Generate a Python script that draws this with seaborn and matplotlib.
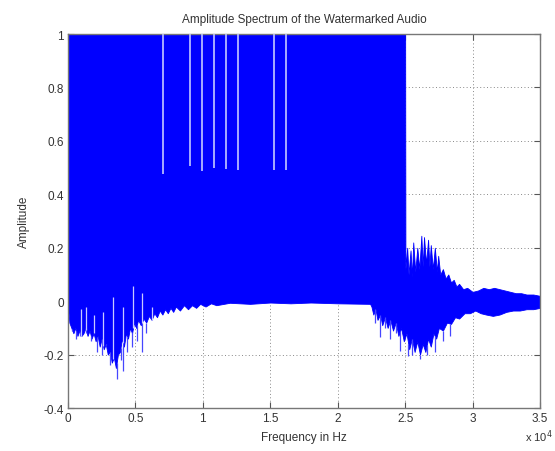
import numpy as np
import pandas as pd
import matplotlib
matplotlib.use("Agg")
import matplotlib.pyplot as plt
import seaborn as sns
from matplotlib.ticker import FuncFormatter, MultipleLocator

# lower envelope of the spectrum (Hz, amplitude)
lower_freq = [0, 100, 250, 400, 550, 700, 850, 1000, 1150, 1300, 1450, 1600, 1750, 1900, 2050,
              2200, 2350, 2500, 2650, 2800, 2950, 3100, 3250, 3400, 3550, 3700, 3850, 4000,
              4150, 4300, 4450, 4600, 4750, 4900, 5050, 5200, 5400, 5600, 5800, 6000, 6200,
              6400, 6600, 6800, 7000, 7200, 7400, 7600, 7800, 8000, 8300, 8600, 8900, 9200,
              9500, 9800, 10200, 10600, 11000, 12000, 13500, 15000, 16500, 18000, 20000, 22400,
              22500, 22640, 22800, 22950, 23140, 23300, 23500, 23700, 23900, 24100, 24300,
              24500, 24700, 24900, 25100, 25300, 25500, 25700, 25900, 26100, 26300, 26500,
              26700, 26900, 27100, 27300, 27500, 27800, 28100, 28400, 28700, 29000, 29400,
              29800, 30200, 30600, 31000, 31500, 32000, 32500, 33000, 33500, 34000, 34500, 35000]
lower_amp = [-0.02, -0.08, -0.1, -0.12, -0.1, -0.13, -0.11, -0.13, -0.12, -0.1, -0.13, -0.11,
             -0.14, -0.12, -0.15, -0.13, -0.17, -0.14, -0.18, -0.16, -0.2, -0.19, -0.23, -0.21,
             -0.25, -0.2, -0.19, -0.14, -0.17, -0.12, -0.14, -0.1, -0.12, -0.08, -0.1, -0.07,
             -0.09, -0.065, -0.08, -0.055, -0.07, -0.045, -0.06, -0.035, -0.05, -0.03, -0.045,
             -0.025, -0.04, -0.02, -0.035, -0.015, -0.03, -0.015, -0.025, -0.01, -0.02, -0.008,
             -0.015, -0.006, -0.01, -0.005, -0.008, -0.005, -0.008, -0.01,
             -0.02, -0.05, -0.03, -0.07, -0.05, -0.09, -0.06, -0.1, -0.07, -0.11, -0.08, -0.13,
             -0.1, -0.15, -0.12, -0.18, -0.14, -0.19, -0.15, -0.2, -0.16, -0.19, -0.14, -0.17,
             -0.12, -0.14, -0.1, -0.11, -0.08, -0.085, -0.06, -0.065, -0.045, -0.045, -0.035,
             -0.045, -0.05, -0.055, -0.05, -0.04, -0.035, -0.035, -0.03, -0.03, -0.025]

# upper envelope: clipped at 1 up to 25 kHz, then the residual band
upper_freq = [0, 25000, 25020, 25150, 25250, 25400, 25500, 25600, 25750, 25900, 26050, 26200,
              26300, 26400, 26550, 26700, 26800, 26900, 27050, 27200, 27350, 27450, 27600,
              27800, 28000, 28200, 28400, 28600, 28800, 29000, 29300, 29600, 30000, 30400,
              30800, 31200, 31600, 32000, 32400, 32800, 33200, 33600, 34000, 34500, 35000]
upper_amp = [1.0, 1.0, 0.12, 0.2, 0.1, 0.19, 0.09, 0.22, 0.11, 0.2, 0.12, 0.245, 0.13, 0.24,
             0.14, 0.23, 0.13, 0.21, 0.12, 0.2, 0.11, 0.17, 0.1, 0.12, 0.085, 0.1, 0.07, 0.08,
             0.055, 0.065, 0.045, 0.05, 0.035, 0.04, 0.05, 0.045, 0.05, 0.045, 0.04, 0.035,
             0.03, 0.03, 0.025, 0.025, 0.02]

# thin spikes below the envelope
down_spike_freq = [270, 600, 890, 1300, 1700, 2175, 2500, 2818, 3100, 3608, 3900, 4103, 4400,
                   4720, 5100, 5460, 5800, 22800, 23140, 23500, 23900, 24300, 24620, 25235,
                   25500, 26100, 26600, 27210, 27800, 28330]
down_spike_amp = [-0.11, -0.14, -0.13, -0.12, -0.15, -0.19, -0.2, -0.16, -0.24, -0.29, -0.22,
                  -0.26, -0.19, -0.17, -0.15, -0.19, -0.12, -0.08, -0.135, -0.1, -0.14, -0.12,
                  -0.186, -0.205, -0.2, -0.217, -0.2, -0.19, -0.15, -0.13]

# gaps in the low end (where the minimum rises)
gap_freq = [1000, 1330, 1900, 2600, 3340, 4080, 4820, 5460, 6200]
gap_amp = [-0.03, -0.02, -0.05, -0.04, 0.014, -0.02, 0.057, 0.03, -0.02]

# watermark notches at the top
notch_freq = [7022, 9047, 9937, 10826, 11716, 12584, 15275, 16165]
notch_amp = [0.476, 0.507, 0.488, 0.5, 0.495, 0.49, 0.49, 0.49]

sns.set_theme(style="white")
plt.rcParams['font.family'] = ['Liberation Sans', 'DejaVu Sans']

fig = plt.figure(figsize=(5.55, 4.52), dpi=100)
ax = fig.add_axes([0.1225, 0.095, 0.8505, 0.8275])

blue = "#0000ff"
grid_f = np.union1d(lower_freq, upper_freq)
lo = np.interp(grid_f, lower_freq, lower_amp)
hi = np.interp(grid_f, upper_freq, upper_amp)
hi[grid_f <= 25000] = 1.0
ax.fill_between(grid_f, lo, hi, color=blue, lw=0.6, zorder=2)

lo_at_down = np.interp(down_spike_freq, lower_freq, lower_amp)
ax.vlines(down_spike_freq, down_spike_amp, lo_at_down, color="#4646ff", lw=0.9, zorder=2)
lo_at_gap = np.interp(gap_freq, lower_freq, lower_amp)
ax.vlines(gap_freq, lo_at_gap, gap_amp, color="#c8c8ff", lw=0.9, zorder=3)
ax.vlines(notch_freq, notch_amp, 1.0, color="#b4b8ff", lw=1.3, zorder=3)

ax.set_xlim(0, 35000)
ax.set_ylim(-0.4, 1)
ax.xaxis.set_major_locator(MultipleLocator(5000))
ax.yaxis.set_major_locator(MultipleLocator(0.2))
ax.xaxis.set_major_formatter(FuncFormatter(lambda v, p: "%g" % (v / 1e4)))
ax.yaxis.set_major_formatter(FuncFormatter(lambda v, p: "%g" % round(v, 1)))

txt = "#333333"
ax.tick_params(direction="in", length=4, width=0.8, color="#555555", labelcolor=txt,
               labelsize=8.5, top=True, right=True, bottom=True, left=True, pad=3)
ax.grid(True, linestyle=(0, (1, 2.5)), color="#888888", lw=0.7, zorder=1)
ax.set_axisbelow(True)
for s in ax.spines.values():
    s.set_color("#777777")
    s.set_linewidth(1.0)

ax.set_title("Amplitude Spectrum of the Watermarked Audio", fontsize=8.5, color=txt, pad=9)
ax.set_xlabel("Frequency in Hz", fontsize=8.5, color=txt, labelpad=5)
ax.set_ylabel("Amplitude", fontsize=8.5, color=txt, labelpad=10)
fig.text(0.995, 1 - 437 / 452, "x 10$^{4}$", ha="right", va="center", fontsize=8, color=txt)

fig.savefig("out.png", dpi=100)
